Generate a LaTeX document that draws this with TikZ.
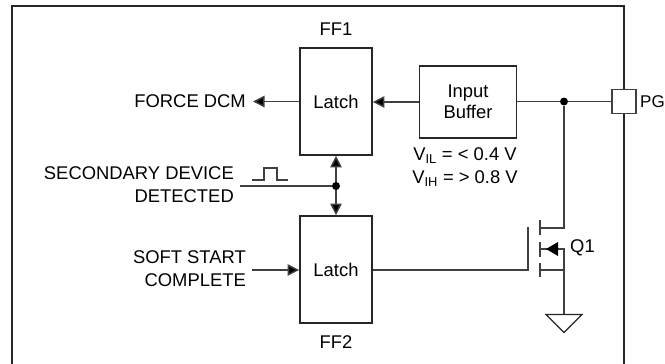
\documentclass[tikz,border=0pt]{standalone}
\usepackage{fontspec}
\setmainfont{Liberation Sans}
\usetikzlibrary{arrows.meta,positioning}
\tikzset{
  block/.style={draw=black!85,line width=1.8pt,minimum width=72pt,inner sep=0pt,align=center},
  textlabel/.style={inner sep=0pt,align=right,anchor=east},
  wire/.style={draw=black!75,line width=1.4pt},
  sig/.style={wire,-{Triangle[length=11.5pt,width=11.5pt,fill=black]}},
  dotnode/.style={circle,fill=black,inner sep=0pt,minimum size=8pt},
}
\begin{document}
\begin{tikzpicture}[x=1pt,y=-1pt,font=\fontsize{18.4}{23.3}\selectfont]
  \useasboundingbox (0,0) rectangle (665,364);
  \draw[black!85,line width=1.8pt] (12,364) -- (12,6) -- (624,6) -- (624,364);
  \node[block,minimum height=107pt] (ff1) at (336,101.5) {Latch};
  \node[block,minimum height=107pt] (ff2) at (336,269.5) {Latch};
  \node[block,minimum width=97pt,minimum height=72pt,font=\fontsize{18.4}{21}\selectfont] (buf) at (468,102) {Input\\Buffer};
  \node[draw=black!75,line width=1.4pt,fill=white,minimum size=24pt,inner sep=0pt] (pg) at (624,101.5) {};
  \node[inner sep=0pt,anchor=west,font=\fontsize{17}{20}\selectfont] (pgl) at (640,101.5) {PG};
  \node[inner sep=0pt,above=11.5pt of ff1] (ff1l) {FF1};
  \node[inner sep=0pt,below=11.5pt of ff2] (ff2l) {FF2};
  \node[textlabel] (force) at (246,101.5) {FORCE DCM};
  \node[textlabel] (sec) at (234,185) {SECONDARY DEVICE\\DETECTED};
  \node[textlabel] (soft) at (246,269) {SOFT START\\COMPLETE};
  \node[inner sep=0pt,align=center] (vil) at (465,167) {V\textsubscript{IL} = < 0.4 V\\V\textsubscript{IH} = > 0.8 V};
  \node[dotnode] (d1) at (564,101.5) {};
  \node[dotnode] (d2) at (336,186) {};
  \coordinate (forceout) at (253,101.5);
  \coordinate (secin) at (240,186);
  \coordinate (softin) at (252,270);
  \path[sig] (ff1.west |- forceout) -- (forceout);
  \path[sig] (buf.west) -- (ff1.east |- buf.west);
  \path[wire] (pg) -- (d1) -- (buf.east |- d1);
  \path[wire] (secin) -- (d2);
  \path[sig] (d2) -- (ff1.south -| d2);
  \path[sig] (d2) -- (ff2.north -| d2);
  \path[sig] (softin) -- (ff2.west |- softin);
  % pulse
  \draw[black!75,line width=1.4pt] (252,180) -- (264,180) -- (264,168) -- (277,168) -- (277,180) -- (288,180);
  % transistor
  \coordinate (gate) at (528,270);
  \coordinate (drain) at (564,228);
  \coordinate (source) at (564,270);
  \coordinate (body) at (564,249);
  \coordinate (gnd) at (564,314.5);
  \path[wire] (ff2.east |- gate) -- (gate) -- (528,227);
  \path[wire] (540,220) -- (540,235);
  \path[wire] (540,242) -- (540,257);
  \path[wire] (540,263) -- (540,277);
  \path[wire] (d1) -- (drain) -- (540,228);
  \path[wire] (540,270) -- (source) -- (gnd);
  \path[wire] (source) -- (body) -- (540,249);
  \fill[black] (546,249) -- (558,242) -- (558,256) -- cycle;
  \node[inner sep=0pt,anchor=west] (q1) at (570,248) {Q1};
  \draw[black!85,line width=1.1pt] (546,314.5) -- (582,314.5) -- (564,332.5) -- cycle;
\end{tikzpicture}
\end{document}
